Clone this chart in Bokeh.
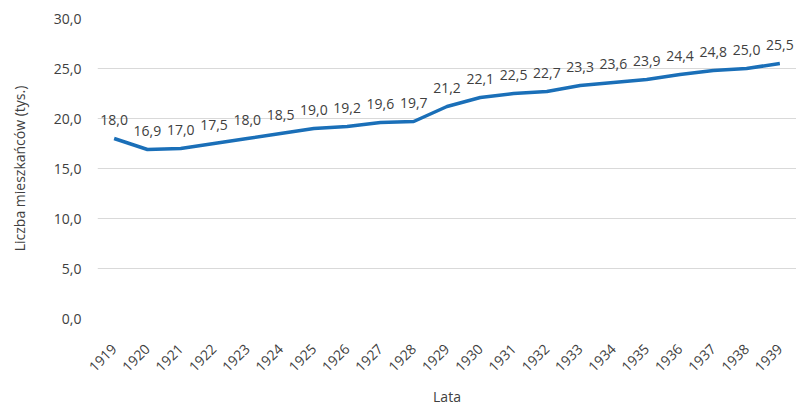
import math
from bokeh.plotting import figure
from bokeh.models import ColumnDataSource, FixedTicker, FactorRange, Range1d
from bokeh.core.properties import value
from bokeh.embed import file_html
from bokeh.resources import INLINE

years = [str(y) for y in range(1919, 1940)]
population = [18.0, 16.9, 17.0, 17.5, 18.0, 18.5, 19.0, 19.2, 19.6, 19.7, 21.2,
              22.1, 22.5, 22.7, 23.3, 23.6, 23.9, 24.4, 24.8, 25.0, 25.5]
y_ticks = [0, 5, 10, 15, 20, 25, 30]
y_tick_labels = ["0,0", "5,0", "10,0", "15,0", "20,0", "25,0", "30,0"]
point_labels = [f"{v:.1f}".replace(".", ",") for v in population]

FONT = "Open Sans"
TXT = "#404040"

src = ColumnDataSource(dict(x=years, y=population, lbl=point_labels))

p = figure(width=796, height=409, x_range=FactorRange(*years, range_padding=0),
           y_range=Range1d(0, 30), output_backend="svg", toolbar_location=None,
           min_border_left=97, min_border_right=0, min_border_top=18,
           min_border_bottom=6)
p.x_range.range_padding = 0
p.outline_line_color = None
p.background_fill_color = "white"

p.line("x", "y", source=src, line_color="#1a6fb8", line_width=3.5, line_join="round")
p.text("x", "y", text="lbl", source=src, text_align="center", text_baseline="bottom",
       y_offset=-14, text_font=value(FONT), text_font_size="14px", text_color=TXT)

p.yaxis.ticker = FixedTicker(ticks=y_ticks)
p.yaxis.major_label_overrides = {t: l for t, l in zip(y_ticks, y_tick_labels)}
p.yaxis.axis_label = "Liczba mieszkańców (tys.)"
p.xaxis.axis_label = "Lata"
p.xaxis.major_label_orientation = math.pi / 4

for ax in (p.xaxis[0], p.yaxis[0]):
    ax.axis_line_color = None
    ax.major_tick_line_color = None
    ax.minor_tick_line_color = None
    ax.major_label_text_font = FONT
    ax.major_label_text_font_size = "14px"
    ax.major_label_text_color = TXT
    ax.axis_label_text_font = FONT
    ax.axis_label_text_font_size = "14px"
    ax.axis_label_text_font_style = "normal"
    ax.axis_label_text_color = TXT

p.yaxis.major_label_standoff = 10
p.yaxis.axis_label_standoff = 22
p.xaxis.major_label_standoff = 22
p.xaxis.axis_label_standoff = 8

p.xgrid.grid_line_color = None
p.ygrid.grid_line_color = "#d9d9d9"
p.ygrid.grid_line_width = 1

open("out.html", "w").write(file_html(p, INLINE))
